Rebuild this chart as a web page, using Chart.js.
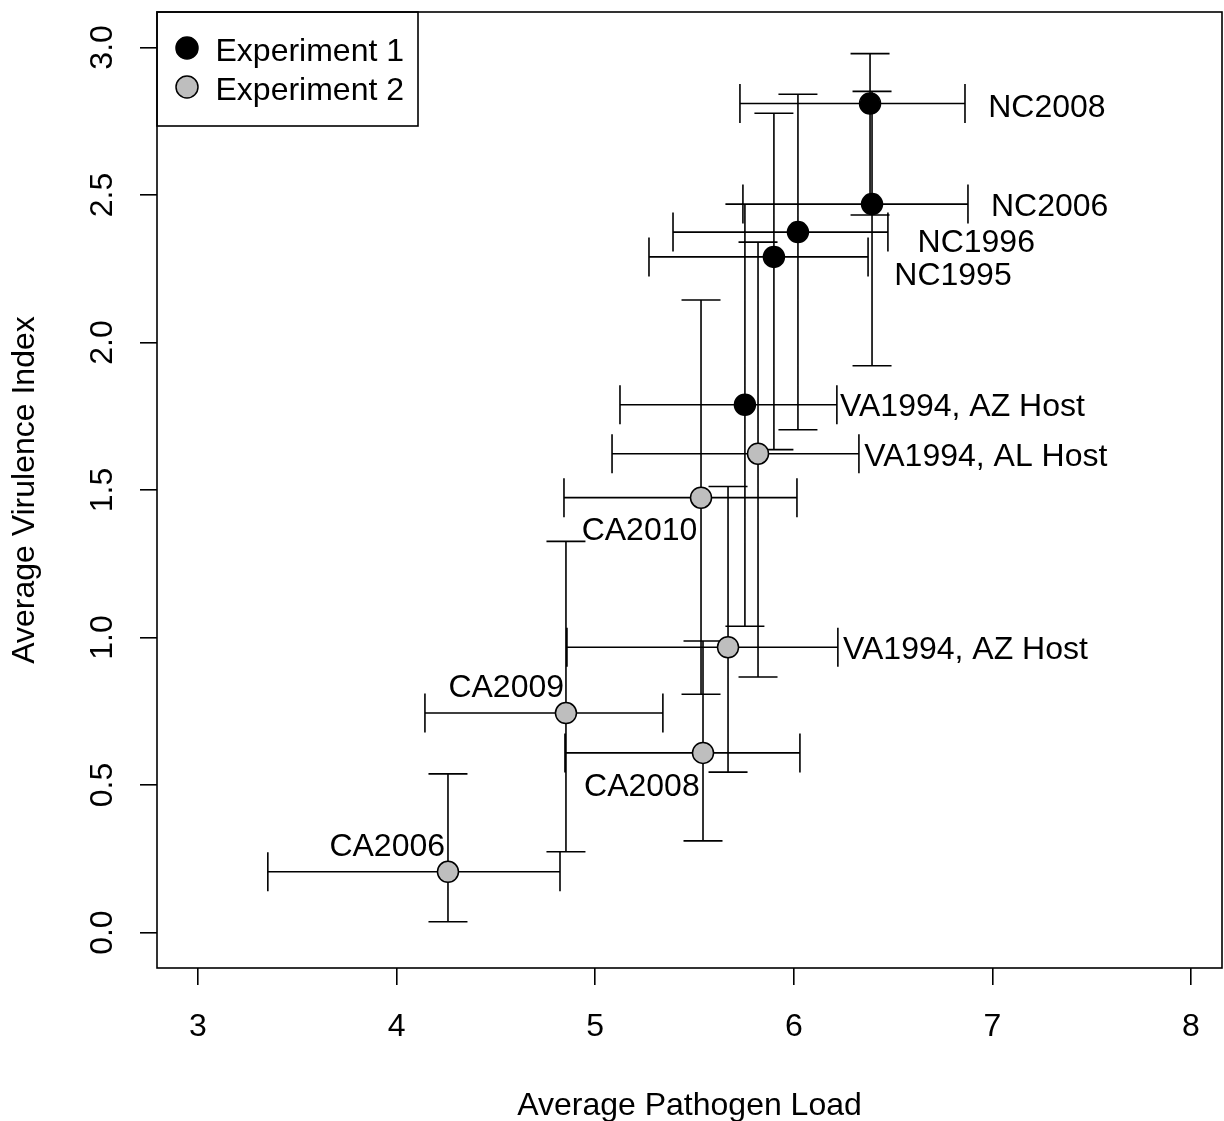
<!DOCTYPE html>
<html>
<head>
<meta charset="utf-8">
<script src="https://cdn.jsdelivr.net/npm/chart.js@4/dist/chart.umd.min.js"></script>
<style>
html, body { margin: 0; padding: 0; background: #fff; }
canvas { display: block; }
</style>
</head>
<body>
<canvas id="chart" width="1224" height="1121"></canvas>
<script>
// Experiment 1 (black)
const exp1Names = ['NC2008', 'NC2006', 'NC1996', 'NC1995', 'VA1994, AZ Host'];
const exp1Load = [6.384, 6.394, 6.021, 5.900, 5.754];
const exp1Vir = [2.810, 2.469, 2.374, 2.290, 1.789];
const exp1LoadLo = [5.729, 5.744, 5.392, 5.271, 5.125];
const exp1LoadHi = [6.862, 6.877, 6.474, 6.374, 6.217];
const exp1VirLo = [2.432, 1.921, 1.704, 1.637, 1.038];
const exp1VirHi = [2.979, 2.851, 2.841, 2.777, 2.469];
const exp1LabelX = [6.979, 6.993, 6.623, 6.506, 6.233];
const exp1LabelY = [2.803, 2.466, 2.347, 2.234, 1.790];

// Experiment 2 (grey)
const exp2Names = ['VA1994, AL Host', 'CA2010', 'VA1994, AZ Host', 'CA2009', 'CA2008', 'CA2006'];
const exp2Load = [5.820, 5.533, 5.669, 4.853, 5.543, 4.259];
const exp2Vir = [1.623, 1.474, 0.967, 0.744, 0.609, 0.206];
const exp2LoadLo = [5.085, 4.843, 4.858, 4.143, 4.848, 3.352];
const exp2LoadHi = [6.328, 6.016, 6.222, 5.341, 6.031, 4.823];
const exp2VirLo = [0.866, 0.808, 0.544, 0.274, 0.311, 0.037];
const exp2VirHi = [2.340, 2.144, 1.512, 1.326, 0.988, 0.538];
const exp2LabelX = [6.355, 4.932, 6.248, 4.261, 4.944, 3.662];
const exp2LabelY = [1.620, 1.370, 0.967, 0.839, 0.501, 0.299];

const seriesNames = ['Experiment 1', 'Experiment 2'];
const xTicks = [3, 4, 5, 6, 7, 8];
const xTickLabels = ['3', '4', '5', '6', '7', '8'];
const yTicks = [0, 0.5, 1, 1.5, 2, 2.5, 3];
const yTickLabels = ['0.0', '0.5', '1.0', '1.5', '2.0', '2.5', '3.0'];

const FONT = '"Liberation Sans", Arial, sans-serif';
const GREY = '#bebebe';
const LW = 1.6;

function toPoints(xs, ys) {
    return xs.map((v, i) => ({ x: v, y: ys[i] }));
}

const groups = [
    { load: exp1Load, vir: exp1Vir, lLo: exp1LoadLo, lHi: exp1LoadHi, vLo: exp1VirLo, vHi: exp1VirHi, names: exp1Names, lx: exp1LabelX, ly: exp1LabelY },
    { load: exp2Load, vir: exp2Vir, lLo: exp2LoadLo, lHi: exp2LoadHi, vLo: exp2VirLo, vHi: exp2VirHi, names: exp2Names, lx: exp2LabelX, ly: exp2LabelY }
];

// error bars go under the points
const errorBars = {
    id: 'errorBars',
    beforeDatasetsDraw(chart) {
        const { ctx, scales: { x, y } } = chart;
        const cap = 19.5;
        ctx.save();
        ctx.strokeStyle = '#000';
        ctx.lineWidth = LW;
        ctx.beginPath();
        groups.forEach(g => {
            g.load.forEach((v, i) => {
                const px = x.getPixelForValue(v);
                const py = y.getPixelForValue(g.vir[i]);
                // horizontal
                const x0 = x.getPixelForValue(g.lLo[i]);
                const x1 = x.getPixelForValue(g.lHi[i]);
                ctx.moveTo(x0, py); ctx.lineTo(x1, py);
                ctx.moveTo(x0, py - cap); ctx.lineTo(x0, py + cap);
                ctx.moveTo(x1, py - cap); ctx.lineTo(x1, py + cap);
                // vertical
                const y0 = y.getPixelForValue(g.vLo[i]);
                const y1 = y.getPixelForValue(g.vHi[i]);
                ctx.moveTo(px, y0); ctx.lineTo(px, y1);
                ctx.moveTo(px - cap, y0); ctx.lineTo(px + cap, y0);
                ctx.moveTo(px - cap, y1); ctx.lineTo(px + cap, y1);
            });
        });
        ctx.stroke();
        ctx.restore();
    }
};

const extras = {
    id: 'extras',
    afterDraw(chart) {
        const { ctx, chartArea: a, scales: { x, y } } = chart;
        ctx.save();
        // point labels
        ctx.fillStyle = '#000';
        ctx.font = '32px ' + FONT;
        ctx.textAlign = 'left';
        ctx.textBaseline = 'alphabetic';
        groups.forEach(g => {
            g.names.forEach((n, i) => {
                ctx.fillText(n, x.getPixelForValue(g.lx[i]), y.getPixelForValue(g.ly[i]) + 11.5);
            });
        });

        // tick labels, R style (y rotated)
        ctx.textAlign = 'center';
        ctx.textBaseline = 'middle';
        xTicks.forEach((v, i) => {
            ctx.fillText(xTickLabels[i], x.getPixelForValue(v), 1027);
        });
        yTicks.forEach((v, i) => {
            ctx.save();
            ctx.translate(103, y.getPixelForValue(v));
            ctx.rotate(-Math.PI / 2);
            ctx.fillText(yTickLabels[i], 0, 0);
            ctx.restore();
        });

        // box
        ctx.strokeStyle = '#000';
        ctx.lineWidth = LW;
        ctx.strokeRect(a.left, a.top, a.right - a.left, a.bottom - a.top);

        // legend
        ctx.strokeRect(a.left, a.top, 261, 114);
        const fills = ['#000', GREY];
        const ys = [48, 87];
        seriesNames.forEach((s, i) => {
            ctx.beginPath();
            ctx.arc(a.left + 30, ys[i], 11, 0, Math.PI * 2);
            ctx.fillStyle = fills[i];
            ctx.fill();
            ctx.lineWidth = 1.5;
            ctx.stroke();
            ctx.fillStyle = '#000';
            ctx.textAlign = 'left';
            ctx.textBaseline = 'alphabetic';
            ctx.fillText(s, a.left + 58.5, ys[i] + 12.5);
        });
        ctx.restore();
    }
};

const ctx = document.getElementById('chart').getContext('2d');
new Chart(ctx, {
    type: 'scatter',
    data: {
        datasets: [{
            label: seriesNames[0],
            data: toPoints(exp1Load, exp1Vir),
            backgroundColor: '#000',
            borderColor: '#000',
            borderWidth: 1.5,
            pointRadius: 10.5,
            pointHoverRadius: 10.5
        }, {
            label: seriesNames[1],
            data: toPoints(exp2Load, exp2Vir),
            backgroundColor: GREY,
            borderColor: '#000',
            borderWidth: 1.5,
            pointRadius: 10.5,
            pointHoverRadius: 10.5
        }]
    },
    options: {
        responsive: false,
        animation: false,
        devicePixelRatio: 1,
        layout: { autoPadding: false, padding: { top: 12, right: 2, left: 0, bottom: 0 } },
        plugins: {
            legend: { display: false },
            tooltip: { enabled: false }
        },
        scales: {
            x: {
                type: 'linear',
                min: 2.794,
                max: 8.156,
                afterBuildTicks: s => { s.ticks = xTicks.map(v => ({ value: v })); },
                afterFit: s => { s.height = 153; },
                border: { display: false },
                grid: { drawOnChartArea: false, drawTicks: true, tickLength: 17, color: '#000', lineWidth: LW },
                ticks: { display: false },
                title: {
                    display: true,
                    text: 'Average Pathogen Load',
                    color: '#000',
                    font: { family: FONT, size: 32, lineHeight: 0.95 },
                    padding: { top: 0, bottom: 0 }
                }
            },
            y: {
                type: 'linear',
                min: -0.12,
                max: 3.12,
                afterBuildTicks: s => { s.ticks = yTicks.map(v => ({ value: v })); },
                afterFit: s => { s.width = 157; },
                border: { display: false },
                grid: { drawOnChartArea: false, drawTicks: true, tickLength: 17, color: '#000', lineWidth: LW },
                ticks: { display: false },
                title: {
                    display: true,
                    text: 'Average Virulence Index',
                    color: '#000',
                    font: { family: FONT, size: 32 },
                    padding: { top: 6, bottom: 0 }
                }
            }
        }
    },
    plugins: [errorBars, extras]
});
</script>
</body>
</html>
